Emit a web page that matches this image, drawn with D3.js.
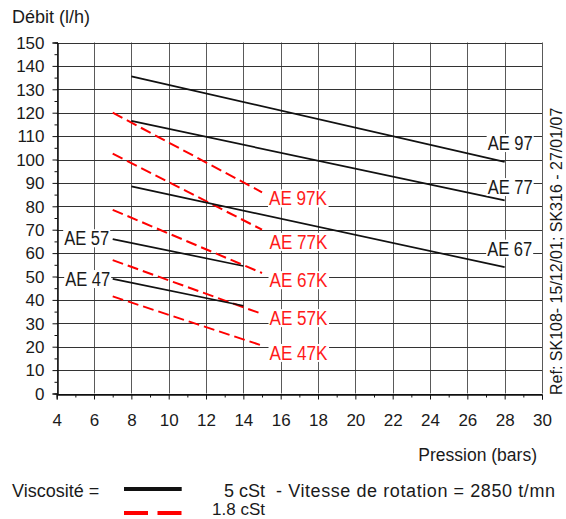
<!DOCTYPE html>
<html>
<head>
<meta charset="utf-8">
<script src="https://cdn.jsdelivr.net/npm/d3@7"></script>
<style>
  body { margin: 0; background: #fff; }
  svg text { font-family: "Liberation Sans", Arial, sans-serif; fill: #1a1a1a; }
</style>
</head>
<body>
<svg id="chart" width="566" height="519"></svg>
<script>
// pressure (bars) / flow (l/h)
var pressureTicks = d3.range(4, 31, 2);
var debitTicks = d3.range(0, 151, 10);

// 5 cSt
var blackNames = ["AE 97", "AE 77", "AE 67", "AE 57", "AE 47"];
var blackPressure = [[8, 28], [8, 28], [8, 28], [7, 14], [7, 14]];
var blackDebit = [[135.5, 99], [116.5, 82.5], [88.5, 54], [66, 54.5], [49, 37.5]];

// 1.8 cSt
var redNames = ["AE 97K", "AE 77K", "AE 67K", "AE 57K", "AE 47K"];
var redPressure = [[7, 15], [7, 15], [7, 15], [7, 15], [7, 15]];
var redDebit = [[120, 86], [102.5, 70], [78.5, 51.5], [57, 34], [41.5, 20.5]];

var svg = d3.select("#chart");

var x = d3.scaleLinear().domain([4, 30]).range([56.7, 542]);
var y = d3.scaleLinear().domain([0, 150]).range([393.5, 42.5]);

// grid
var grid = svg.append("g").attr("class", "grid");
grid.selectAll("line.v")
  .data(pressureTicks)
  .enter()
  .append("line")
  .attr("x1", function(d) { return Math.round(x(d)) + 0.5; })
  .attr("x2", function(d) { return Math.round(x(d)) + 0.5; })
  .attr("y1", y(150))
  .attr("y2", y(0))
  .style("stroke", "#5a5a5a")
  .style("stroke-width", 1);

grid.selectAll("line.h")
  .data(debitTicks)
  .enter()
  .append("line")
  .attr("x1", x(4))
  .attr("x2", x(30))
  .attr("y1", function(d) { return Math.round(y(d)) + 0.5; })
  .attr("y2", function(d) { return Math.round(y(d)) + 0.5; })
  .style("stroke", function(d) { return d === 0 ? "#111" : "#333"; })
  .style("stroke-width", 1);

// axes (minor ticks, then major ticks with labels)
var xMinor = d3.axisBottom(x).tickValues(d3.range(5, 30, 2)).tickSize(3).tickFormat("");
var yMinor = d3.axisLeft(y).tickValues(d3.range(5, 150, 10)).tickSize(3).tickFormat("");
var xAxis = d3.axisBottom(x).tickValues(pressureTicks).tickSize(5).tickPadding(14);
var yAxis = d3.axisLeft(y).tickValues(debitTicks).tickSize(5).tickPadding(8);

[[xMinor, "x"], [xAxis, "x"], [yMinor, "y"], [yAxis, "y"]].forEach(function(a) {
  var g = svg.append("g");
  if (a[1] === "x") g.attr("transform", "translate(0," + (Math.round(y(0)) + 0.5) + ")");
  else g.attr("transform", "translate(" + (Math.round(x(4)) + 0.5) + ",0)");
  g.call(a[0]);
  g.select(".domain").style("stroke", "#111");
  g.selectAll(".tick line").style("stroke", "#111");
  g.selectAll(".tick text").style("font-size", "17px").style("fill", "#1a1a1a");
  if (a[1] === "y") g.selectAll(".tick text").attr("dy", "0.34em");
});

// series lines
var line = d3.line().x(function(d) { return x(d[0]); }).y(function(d) { return y(d[1]); });

function pts(p, v) { return p.map(function(px, i) { return [px, v[i]]; }); }

svg.append("g").selectAll("path")
  .data(redNames)
  .enter()
  .append("path")
  .attr("d", function(d, i) { return line(pts(redPressure[i], redDebit[i])); })
  .style("fill", "none")
  .style("stroke", "#ff0000")
  .style("stroke-width", 2)
  .style("stroke-dasharray", "11,5");

svg.append("g").selectAll("path")
  .data(blackNames)
  .enter()
  .append("path")
  .attr("d", function(d, i) { return line(pts(blackPressure[i], blackDebit[i])); })
  .style("fill", "none")
  .style("stroke", "#111")
  .style("stroke-width", 1.7);

// series labels: pixel offsets from a line end
var labelLayout = {
  "AE 97": { end: 1, dx: 5.5, dy: -19, anchor: "middle" },
  "AE 77": { end: 1, dx: 5.5, dy: -13.6, anchor: "middle" },
  "AE 67": { end: 1, dx: 5, dy: -18.7, anchor: "middle" },
  "AE 57": { end: 0, dx: -3.5, dy: -1, anchor: "end" },
  "AE 47": { end: 0, dx: -2.5, dy: 0, anchor: "end" },
  "AE 97K": { end: 1, dx: 7, dy: 6, anchor: "start" },
  "AE 77K": { end: 1, dx: 7.5, dy: 12, anchor: "start" },
  "AE 67K": { end: 1, dx: 7.5, dy: 7, anchor: "start" },
  "AE 57K": { end: 1, dx: 7.5, dy: 4, anchor: "start" },
  "AE 47K": { end: 1, dx: 7.5, dy: 7.2, anchor: "start" }
};

function addLabels(names, press, debit, color, len) {
  var g = svg.append("g");
  names.forEach(function(name, i) {
    var L = labelLayout[name];
    var px = x(press[i][L.end]) + L.dx;
    var py = y(debit[i][L.end]) + L.dy;
    var t = g.append("text")
      .attr("x", px)
      .attr("y", py)
      .attr("dy", "0.36em")
      .attr("text-anchor", L.anchor)
      .attr("textLength", len)
      .attr("lengthAdjust", "spacingAndGlyphs")
      .style("font-size", "20px")
      .style("fill", color)
      .text(name);
    var b = t.node().getBBox();
    g.insert("rect", function() { return t.node(); })
      .attr("x", b.x - 1)
      .attr("y", b.y + 2)
      .attr("width", b.width + 2)
      .attr("height", b.height - 4)
      .style("fill", "#fff");
  });
}
addLabels(blackNames, blackPressure, blackDebit, "#1a1a1a", 45);
addLabels(redNames, redPressure, redDebit, "#ff1a1a", 58);

// titles
svg.append("text").attr("x", 12).attr("y", 23).style("font-size", "18px").text("Débit (l/h)");
svg.append("text").attr("x", 537).attr("y", 460.5).attr("text-anchor", "end")
  .style("font-size", "17.5px").text("Pression (bars)");
svg.append("text")
  .attr("transform", "translate(561.5,395) rotate(-90)")
  .style("font-size", "16px")
  .text("Ref: SK108- 15/12/01; SK316 - 27/01/07");

// legend
var legend = svg.append("g");
legend.append("text").attr("x", 12).attr("y", 496.5).style("font-size", "18px").text("Viscosité =");
legend.append("line").attr("x1", 124).attr("x2", 181.7).attr("y1", 489).attr("y2", 489)
  .style("stroke", "#111").style("stroke-width", 4);
legend.append("line").attr("x1", 124).attr("x2", 181.7).attr("y1", 513).attr("y2", 513)
  .style("stroke", "#ff0000").style("stroke-width", 4).style("stroke-dasharray", "24,9.5");
legend.append("text").attr("x", 265).attr("y", 496.5).attr("text-anchor", "end")
  .style("font-size", "18px").text("5 cSt");
legend.append("text").attr("x", 265).attr("y", 515).attr("text-anchor", "end")
  .style("font-size", "17px").text("1.8 cSt");
legend.append("text").attr("x", 276).attr("y", 496.5)
  .attr("textLength", 279).attr("lengthAdjust", "spacing")
  .style("font-size", "18px").text("- Vitesse de rotation = 2850 t/mn");
</script>
</body>
</html>
